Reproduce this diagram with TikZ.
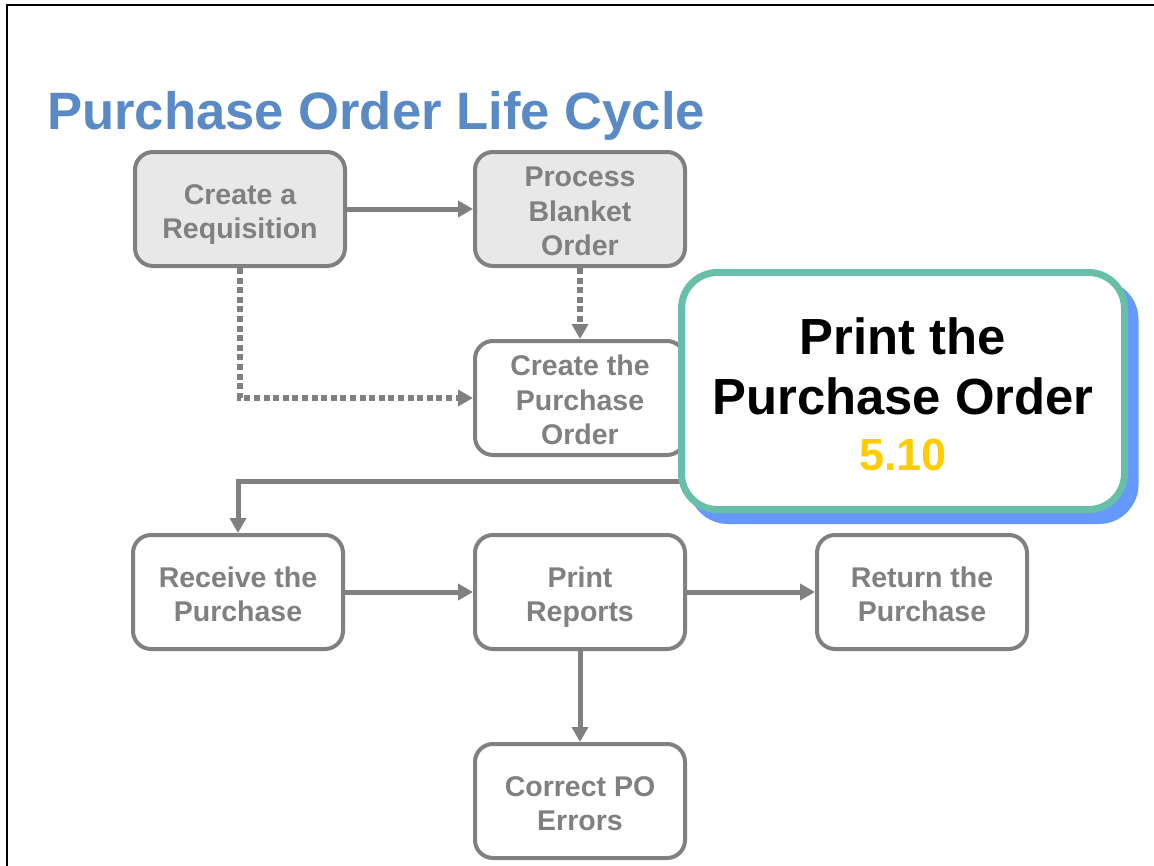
\documentclass[tikz,border=0pt]{standalone}
\usepackage{fontspec}
\setmainfont{Liberation Sans}
\usetikzlibrary{arrows.meta}
\definecolor{boxgray}{HTML}{808080}
\definecolor{boxfill}{HTML}{E8E8E8}
\definecolor{titleblue}{HTML}{5A8AC6}
\definecolor{tealedge}{HTML}{68BFA9}
\definecolor{shadowblue}{HTML}{6699FF}
\definecolor{gold}{HTML}{FFCC00}
\newcommand{\tstr}{\rule{0pt}{34pt}}
\newcommand{\bstr}{\rule[-9.5pt]{0pt}{9.5pt}}
\begin{document}
\begin{tikzpicture}[x=1pt,y=-1pt,
  stepbox/.style={draw=boxgray, line width=4pt, rounded corners=18pt,
    minimum width=210pt, minimum height=114pt, inner sep=0pt, align=center,
    text=boxgray, font=\fontsize{28.5}{34.5}\selectfont\bfseries},
  filledbox/.style={stepbox, fill=boxfill},
  plainbox/.style={stepbox, fill=white},
  flow/.style={draw=boxgray, line width=5pt, -{Triangle[length=15pt,width=16pt]}},
  dotflow/.style={flow, line width=6pt, dash pattern=on 6pt off 3.6pt},
  calloutbox/.style={line width=7pt, rounded corners=36pt,
    minimum width=443pt, minimum height=237pt, inner sep=0pt},
  callouttext/.style={anchor=base, inner sep=0pt, font=\fontsize{50.8}{60}\selectfont\bfseries},
]
\useasboundingbox (0,0) rectangle (1154,865);
\fill[white] (0,0) rectangle (1154,865);
\draw[line width=2pt] (7,866) -- (7,5) -- (1155,5);

\node[anchor=base west, inner sep=0pt, text=titleblue,
  font=\fontsize{52.6}{60}\selectfont\bfseries] (title) at (47,129) {Purchase Order Life Cycle};

\node[filledbox] (req) at (240,209) {\tstr Create a\\Requisition\bstr};
\node[filledbox] (blanket) at (580,209) {\tstr Process\\Blanket\\Order\bstr};
\node[plainbox] (create) at (580,398) {\tstr Create the\\Purchase\\Order\bstr};
\node[plainbox] (receive) at (238,592) {\tstr Receive the\\Purchase\bstr};
\node[plainbox] (reports) at (580,592) {\tstr Print\\Reports\bstr};
\node[plainbox] (return) at (922,592) {\tstr Return the\\Purchase\bstr};
\node[plainbox] (correct) at (580,801) {\tstr Correct PO\\Errors\bstr};

\draw[flow] (req) -- (blanket);
\draw[dotflow] (blanket) -- (create);
\draw[dotflow] (req.south) |- (create.west);
\coordinate (cstart) at (720,481);
\draw[flow] (cstart) -| (receive.north);
\draw[flow] (receive) -- (reports);
\draw[flow] (reports) -- (return);
\draw[flow] (reports) -- (correct);

\node[calloutbox, draw=shadowblue, fill=shadowblue] (shadow) at (913.5,402) {};
\node[calloutbox, draw=tealedge, fill=white] (callout) at (903,391) {};
\node[callouttext] (ct1) at (903,354) {Print the};
\node[callouttext] (ct2) at (903,414) {Purchase Order};
\node[callouttext, text=gold, font=\fontsize{45}{50}\selectfont\bfseries] (ct3) at (903,470) {5.10};
\end{tikzpicture}
\end{document}
